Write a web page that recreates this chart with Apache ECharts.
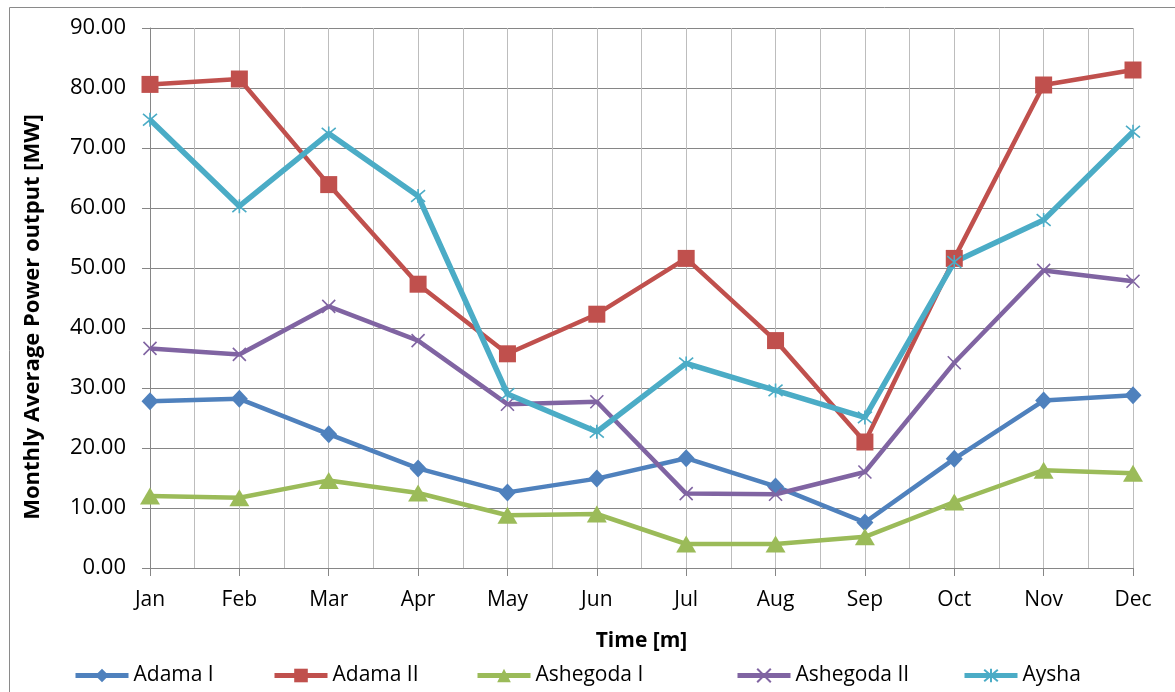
<!DOCTYPE html>
<html>
<head>
<meta charset="utf-8">
<script src="https://cdn.jsdelivr.net/npm/echarts@6/dist/echarts.min.js"></script>
<style>html,body{margin:0;padding:0;background:#fff}#c{width:1175px;height:692px}</style>
</head>
<body>
<div id="c"></div>
<script>
const months = ['Jan','Feb','Mar','Apr','May','Jun','Jul','Aug','Sep','Oct','Nov','Dec'];
const adamaI     = [27.8, 28.2, 22.3, 16.6, 12.6, 14.9, 18.3, 13.6, 7.6, 18.2, 27.9, 28.8];
const adamaII    = [80.6, 81.5, 63.9, 47.3, 35.7, 42.3, 51.6, 37.9, 21.0, 51.6, 80.5, 83.0];
const ashegodaI  = [12.0, 11.7, 14.6, 12.5, 8.8, 9.0, 4.0, 4.0, 5.2, 11.0, 16.3, 15.8];
const ashegodaII = [36.6, 35.6, 43.6, 37.9, 27.3, 27.7, 12.4, 12.3, 16.0, 34.2, 49.6, 47.8];
const aysha      = [74.7, 60.3, 72.4, 62.0, 29.0, 22.7, 34.1, 29.6, 25.1, 51.0, 58.0, 72.7];
const yTicks = {min: 0, max: 90, step: 10};

const FONT = 'Open Sans';
const colors = {
  adamaI: '#4F81BD', adamaII: '#C0504D', ashegodaI: '#9BBB59', ashegodaII: '#8064A2', aysha: '#4BACC6'
};
const xPath = 'path://M0,0L10,10M10,0L0,10';
const starPath = 'path://M0,0L10,10M10,0L0,10M5,-1L5,11';

function mk(name, data, color, symbol, size, lw, stroked) {
  return {
    name, type: 'line', xAxisIndex: 0, data, symbol, symbolSize: size,
    lineStyle: {color, width: lw},
    itemStyle: stroked ? {color: 'rgba(0,0,0,0)', borderColor: color, borderWidth: 1.6} : {color},
    emphasis: {disabled: true}, animation: false
  };
}

const legendLefts = [73, 272, 475, 735, 962];
const names = ['Adama I','Adama II','Ashegoda I','Ashegoda II','Aysha'];

const chart = echarts.init(document.getElementById('c'), null, {renderer: 'canvas'});
chart.setOption({
  animation: false,
  textStyle: {fontFamily: FONT},
  grid: {left: 150, right: 42, top: 28, bottom: 124, containLabel: false},
  graphic: [
    {type: 'rect', shape: {x: 9.5, y: 7.5, width: 1200, height: 700}, style: {fill: 'none', stroke: '#8a8a8a', lineWidth: 1}, silent: true, z: -10},
    {type: 'text', x: 33, y: 317, rotation: Math.PI / 2,
     style: {text: 'Monthly Average Power output [MW]', font: 'bold 22px "Open Sans"', fill: '#000', align: 'center', verticalAlign: 'middle'}}
  ],
  xAxis: [
    {type: 'category', data: months, boundaryGap: false,
     name: 'Time [m]', nameLocation: 'middle', nameGap: 63,
     nameTextStyle: {fontFamily: FONT, fontWeight: 'bold', fontSize: 21, color: '#000'},
     axisLine: {lineStyle: {color: '#868686', width: 1}},
     axisTick: {show: true, length: 8, lineStyle: {color: '#868686'}, alignWithLabel: true},
     axisLabel: {fontFamily: FONT, fontSize: 21, color: '#000', margin: 22, interval: 0},
     splitLine: {show: false}},
    {type: 'value', min: 0, max: 22, interval: 1, show: true, position: 'top',
     axisLine: {show: false}, axisTick: {show: false}, axisLabel: {show: false},
     splitLine: {show: true, lineStyle: {color: '#bdbdbd', width: 1}}}
  ],
  yAxis: {type: 'value', min: yTicks.min, max: yTicks.max, interval: yTicks.step,
    axisLine: {show: true, lineStyle: {color: '#868686'}},
    axisTick: {show: true, length: 8, lineStyle: {color: '#868686'}},
    axisLabel: {fontFamily: FONT, fontSize: 22, color: '#000', margin: 24, formatter: v => v.toFixed(2)},
    splitLine: {show: true, lineStyle: {color: '#868686', width: 1}}
  },
  legend: names.map((n, i) => ({
    data: [n], left: legendLefts[i], top: 665, padding: 0, itemWidth: 53, itemHeight: 17, itemGap: 5,
    lineStyle: {width: 5},
    textStyle: {fontFamily: FONT, fontSize: 21, color: '#000'}, selectedMode: false
  })),
  series: [
    mk('Adama I', adamaI, colors.adamaI, 'diamond', [17, 18], 4.5, false),
    mk('Adama II', adamaII, colors.adamaII, 'rect', 17, 4.5, false),
    mk('Ashegoda I', ashegodaI, colors.ashegodaI, 'triangle', [20, 17], 4.5, false),
    mk('Ashegoda II', ashegodaII, colors.ashegodaII, xPath, 13, 4.5, true),
    mk('Aysha', aysha, colors.aysha, starPath, 14, 5.5, true)
  ]
});
</script>
</body>
</html>
